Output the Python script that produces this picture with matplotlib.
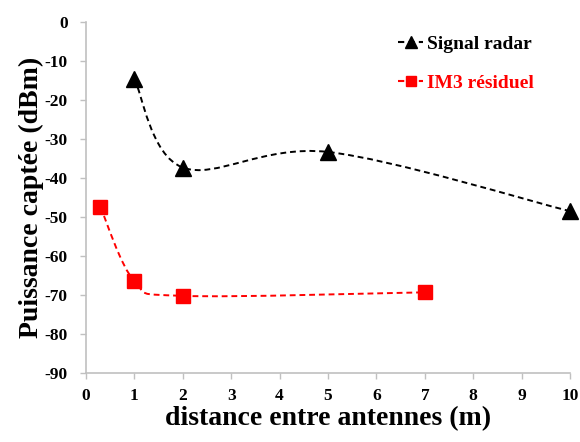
import matplotlib.pyplot as plt
import numpy as np
from matplotlib.path import Path
from matplotlib.patches import PathPatch
from matplotlib.lines import Line2D

plt.rcParams['font.family'] = ['Liberation Serif', 'DejaVu Serif']
plt.rcParams['font.weight'] = 'bold'
plt.rcParams['axes.labelweight'] = 'bold'
plt.rcParams['axes.unicode_minus'] = False

radar_x = [1, 2, 5, 10]
radar_y = [-14.5, -37.3, -33.3, -48.5]
im3_x = [0.3, 1, 2, 7]
im3_y = [-47.4, -66.4, -70.2, -69.3]

x_ticks = list(range(0, 11))
y_ticks = list(range(-90, 1, 10))


def smooth_path(xs, ys):
    # Excel-like smoothed line: Catmull-Rom segments as cubic Bezier
    pts = np.column_stack([xs, ys]).astype(float)
    ext = np.vstack([pts[0], pts, pts[-1]])
    verts = [pts[0]]
    codes = [Path.MOVETO]
    for i in range(1, len(ext) - 2):
        p0, p1, p2, p3 = ext[i - 1], ext[i], ext[i + 1], ext[i + 2]
        verts += [p1 + (p2 - p0) / 6, p2 - (p3 - p1) / 6, p2]
        codes += [Path.CURVE4] * 3
    return Path(verts, codes)


fig = plt.figure(figsize=(5.8, 4.42), dpi=100)
ax = fig.add_axes([0.148, 0.156, 0.835, 0.794])

for xs, ys, color, marker, ms in [(radar_x, radar_y, 'black', '^', 11),
                                  (im3_x, im3_y, 'red', 's', 9.5)]:
    ax.add_patch(PathPatch(smooth_path(xs, ys), fill=False, edgecolor=color,
                           linestyle=(0, (3, 2)), linewidth=1.4))
    ax.plot(xs, ys, linestyle='none', marker=marker, color=color, markersize=ms,
            clip_on=False, zorder=3)

ax.set_xlim(0, 10)
ax.set_ylim(-90, 0)
ax.set_xticks(x_ticks)
ax.set_yticks(y_ticks)
ax.tick_params(labelsize=12.5, color='#c0c0c0', length=4, width=1, pad=9)
ax.tick_params(axis='x', pad=7)
for s in ['top', 'right']:
    ax.spines[s].set_visible(False)
for s in ['left', 'bottom']:
    ax.spines[s].set_color('#c0c0c0')
    ax.spines[s].set_linewidth(1.2)

ax.set_xlabel('distance entre antennes (m)', fontsize=20, labelpad=1)
ax.set_ylabel('Puissance captée (dBm)', fontsize=20, labelpad=0.5)

handles = [Line2D([], [], color='black', linestyle=(0, (3, 2)), marker='^', markersize=8),
           Line2D([], [], color='red', linestyle=(0, (3, 2)), marker='s', markersize=7.5)]
ax.legend(handles, ['Signal radar', 'IM3 résiduel'], loc='upper right',
          bbox_to_anchor=(0.962, 1.012), frameon=False, fontsize=14,
          labelcolor=['black', 'red'], handlelength=1.3, handletextpad=0.2,
          labelspacing=1.1)

fig.savefig('out.png', dpi=100)
